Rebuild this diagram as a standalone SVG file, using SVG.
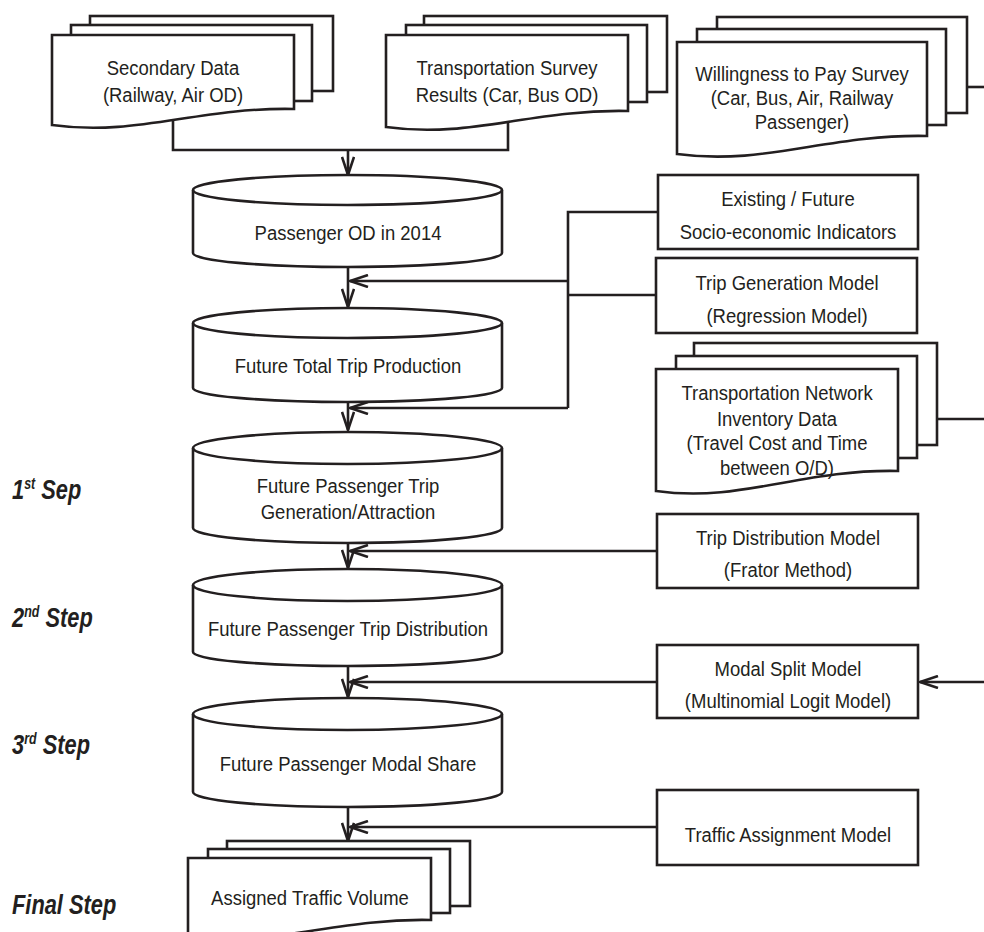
<svg xmlns="http://www.w3.org/2000/svg" width="984" height="932" viewBox="0 0 984 932">
<style>
.s{fill:#fff;stroke:#231f20;stroke-width:2.6}
.ln{fill:none;stroke:#231f20;stroke-width:2.6}
.t{font-family:"Liberation Sans",Arial,sans-serif;font-size:21px;text-anchor:middle;fill:#231f20}
.lb{font-family:"Liberation Sans",Arial,sans-serif;font-size:28px;font-weight:bold;font-style:italic;fill:#231f20}
</style>
<defs>
<marker id="ah" viewBox="0 0 20 14" refX="19" refY="7" markerWidth="20" markerHeight="14" markerUnits="userSpaceOnUse" orient="auto">
<path d="M1,1 L19,7 L1,13" fill="none" stroke="#231f20" stroke-width="2.6"/>
</marker>
</defs>
<rect width="984" height="932" fill="#fff"/>
<g id="connectors">
<path class="ln" d="M173,118 V150 H508 V120"/>
<path class="ln" d="M348,150 V175" marker-end="url(#ah)"/>
<path class="ln" d="M967,87 H984"/>
<path class="ln" d="M348,267 V307" marker-end="url(#ah)"/>
<path class="ln" d="M348,402 V430" marker-end="url(#ah)"/>
<path class="ln" d="M348,543 V568" marker-end="url(#ah)"/>
<path class="ln" d="M348,666 V697" marker-end="url(#ah)"/>
<path class="ln" d="M348,807 V841" marker-end="url(#ah)"/>
<path class="ln" d="M658,212 H568 V408"/>
<path class="ln" d="M656,295 H568"/>
<path class="ln" d="M568,281 H350" marker-end="url(#ah)"/>
<path class="ln" d="M568,408 H350" marker-end="url(#ah)"/>
<path class="ln" d="M657,551 H350" marker-end="url(#ah)"/>
<path class="ln" d="M657,682 H350" marker-end="url(#ah)"/>
<path class="ln" d="M657,827 H350" marker-end="url(#ah)"/>
<path class="ln" d="M937,419 H984"/>
<path class="ln" d="M984,682 H920" marker-end="url(#ah)"/>
</g>
<g id="secondary-data">
<rect class="s" x="90" y="16" width="243" height="75"/>
<rect class="s" x="71" y="25" width="241" height="76"/>
<path class="s" d="M52,35 H294 V109 C197,107 137,137 52,125 Z"/>
<text class="t" transform="translate(173,0) scale(0.88,1)"><tspan x="0" y="75.5">Secondary Data</tspan><tspan x="0" y="102.5">(Railway, Air OD)</tspan></text>
</g>
<g id="transport-survey">
<rect class="s" x="424" y="16" width="243" height="76"/>
<rect class="s" x="406" y="25" width="241" height="77"/>
<path class="s" d="M386,35 H628 V111 C531,109 471,139 386,127 Z"/>
<text class="t" transform="translate(507,0) scale(0.88,1)"><tspan x="0" y="75.5">Transportation Survey</tspan><tspan x="0" y="102.5">Results (Car, Bus OD)</tspan></text>
</g>
<g id="wtp-survey">
<rect class="s" x="717" y="17" width="250" height="96"/>
<rect class="s" x="697" y="29" width="249" height="96"/>
<path class="s" d="M677,42 H927 V136 C827,134 765,166 677,154 Z"/>
<text class="t" transform="translate(802,0) scale(0.88,1)"><tspan x="0" y="81.5">Willingness to Pay Survey</tspan><tspan x="0" y="105.5">(Car, Bus, Air, Railway</tspan><tspan x="0" y="129.5">Passenger)</tspan></text>
</g>
<g id="passenger-od">
<path class="s" d="M193,190 A154.5,15 0 0 1 502,190 V253 A154.5,14 0 0 1 193,253 Z"/>
<path class="ln" d="M193,190 A154.5,15 0 0 0 502,190"/>
<text class="t" transform="translate(348,239.5) scale(0.88,1)">Passenger OD in 2014</text>
</g>
<g id="total-trip-production">
<path class="s" d="M193,323 A154.5,15 0 0 1 502,323 V388 A154.5,14 0 0 1 193,388 Z"/>
<path class="ln" d="M193,323 A154.5,15 0 0 0 502,323"/>
<text class="t" transform="translate(348,372.5) scale(0.88,1)">Future Total Trip Production</text>
</g>
<g id="trip-generation-attraction">
<path class="s" d="M193,448 A154.5,16 0 0 1 502,448 V528 A154.5,15 0 0 1 193,528 Z"/>
<path class="ln" d="M193,448 A154.5,16 0 0 0 502,448"/>
<text class="t" transform="translate(348,0) scale(0.88,1)"><tspan x="0" y="493.5">Future Passenger Trip</tspan><tspan x="0" y="519.5">Generation/Attraction</tspan></text>
</g>
<g id="trip-distribution">
<path class="s" d="M193,585 A154.5,16 0 0 1 502,585 V652 A154.5,14 0 0 1 193,652 Z"/>
<path class="ln" d="M193,585 A154.5,16 0 0 0 502,585"/>
<text class="t" transform="translate(348,635.5) scale(0.88,1)">Future Passenger Trip Distribution</text>
</g>
<g id="modal-share">
<path class="s" d="M193,714 A154.5,16 0 0 1 502,714 V792 A154.5,15 0 0 1 193,792 Z"/>
<path class="ln" d="M193,714 A154.5,16 0 0 0 502,714"/>
<text class="t" transform="translate(348,770.5) scale(0.88,1)">Future Passenger Modal Share</text>
</g>
<g id="assigned-traffic">
<rect class="s" x="227" y="841" width="243" height="65"/>
<rect class="s" x="208" y="849" width="242" height="64"/>
<path class="s" d="M188,858 H431 V920 C334,918 274,948 188,936 Z"/>
<text class="t" transform="translate(310,904.5) scale(0.88,1)">Assigned Traffic Volume</text>
</g>
<g id="socio-economic">
<rect class="s" x="658" y="175" width="260" height="74"/>
<text class="t" transform="translate(788,0) scale(0.88,1)"><tspan x="0" y="206">Existing / Future</tspan><tspan x="0" y="239">Socio-economic Indicators</tspan></text>
</g>
<g id="trip-generation-model">
<rect class="s" x="656" y="258" width="261" height="75"/>
<text class="t" transform="translate(787,0) scale(0.88,1)"><tspan x="0" y="290.5">Trip Generation Model</tspan><tspan x="0" y="323.5">(Regression Model)</tspan></text>
</g>
<g id="network-inventory">
<rect class="s" x="694" y="343" width="243" height="102"/>
<rect class="s" x="676" y="356" width="241" height="102"/>
<path class="s" d="M656,369 H898 V471 C801,469 741,503 656,491 Z"/>
<text class="t" transform="translate(777,0) scale(0.88,1)"><tspan x="0" y="400.5">Transportation Network</tspan><tspan x="0" y="426">Inventory Data</tspan><tspan x="0" y="450.5">(Travel Cost and Time</tspan><tspan x="0" y="475.5">between O/D)</tspan></text>
</g>
<g id="trip-distribution-model">
<rect class="s" x="657" y="514" width="261" height="74"/>
<text class="t" transform="translate(788,0) scale(0.88,1)"><tspan x="0" y="545">Trip Distribution Model</tspan><tspan x="0" y="577">(Frator Method)</tspan></text>
</g>
<g id="modal-split-model">
<rect class="s" x="657" y="645" width="261" height="73"/>
<text class="t" transform="translate(788,0) scale(0.88,1)"><tspan x="0" y="676">Modal Split Model</tspan><tspan x="0" y="708">(Multinomial Logit Model)</tspan></text>
</g>
<g id="traffic-assignment-model">
<rect class="s" x="657" y="790" width="261" height="75"/>
<text class="t" transform="translate(788,842) scale(0.88,1)">Traffic Assignment Model</text>
</g>
<g id="step-labels">
<text class="lb" transform="translate(12,499) scale(0.78,1)">1<tspan font-size="16" dy="-10">st</tspan><tspan dy="10"> Sep</tspan></text>
<text class="lb" transform="translate(12,627) scale(0.78,1)">2<tspan font-size="16" dy="-10">nd</tspan><tspan dy="10"> Step</tspan></text>
<text class="lb" transform="translate(12,754) scale(0.78,1)">3<tspan font-size="16" dy="-10">rd</tspan><tspan dy="10"> Step</tspan></text>
<text class="lb" transform="translate(12,914) scale(0.78,1)">Final Step</text>
</g>
</svg>
